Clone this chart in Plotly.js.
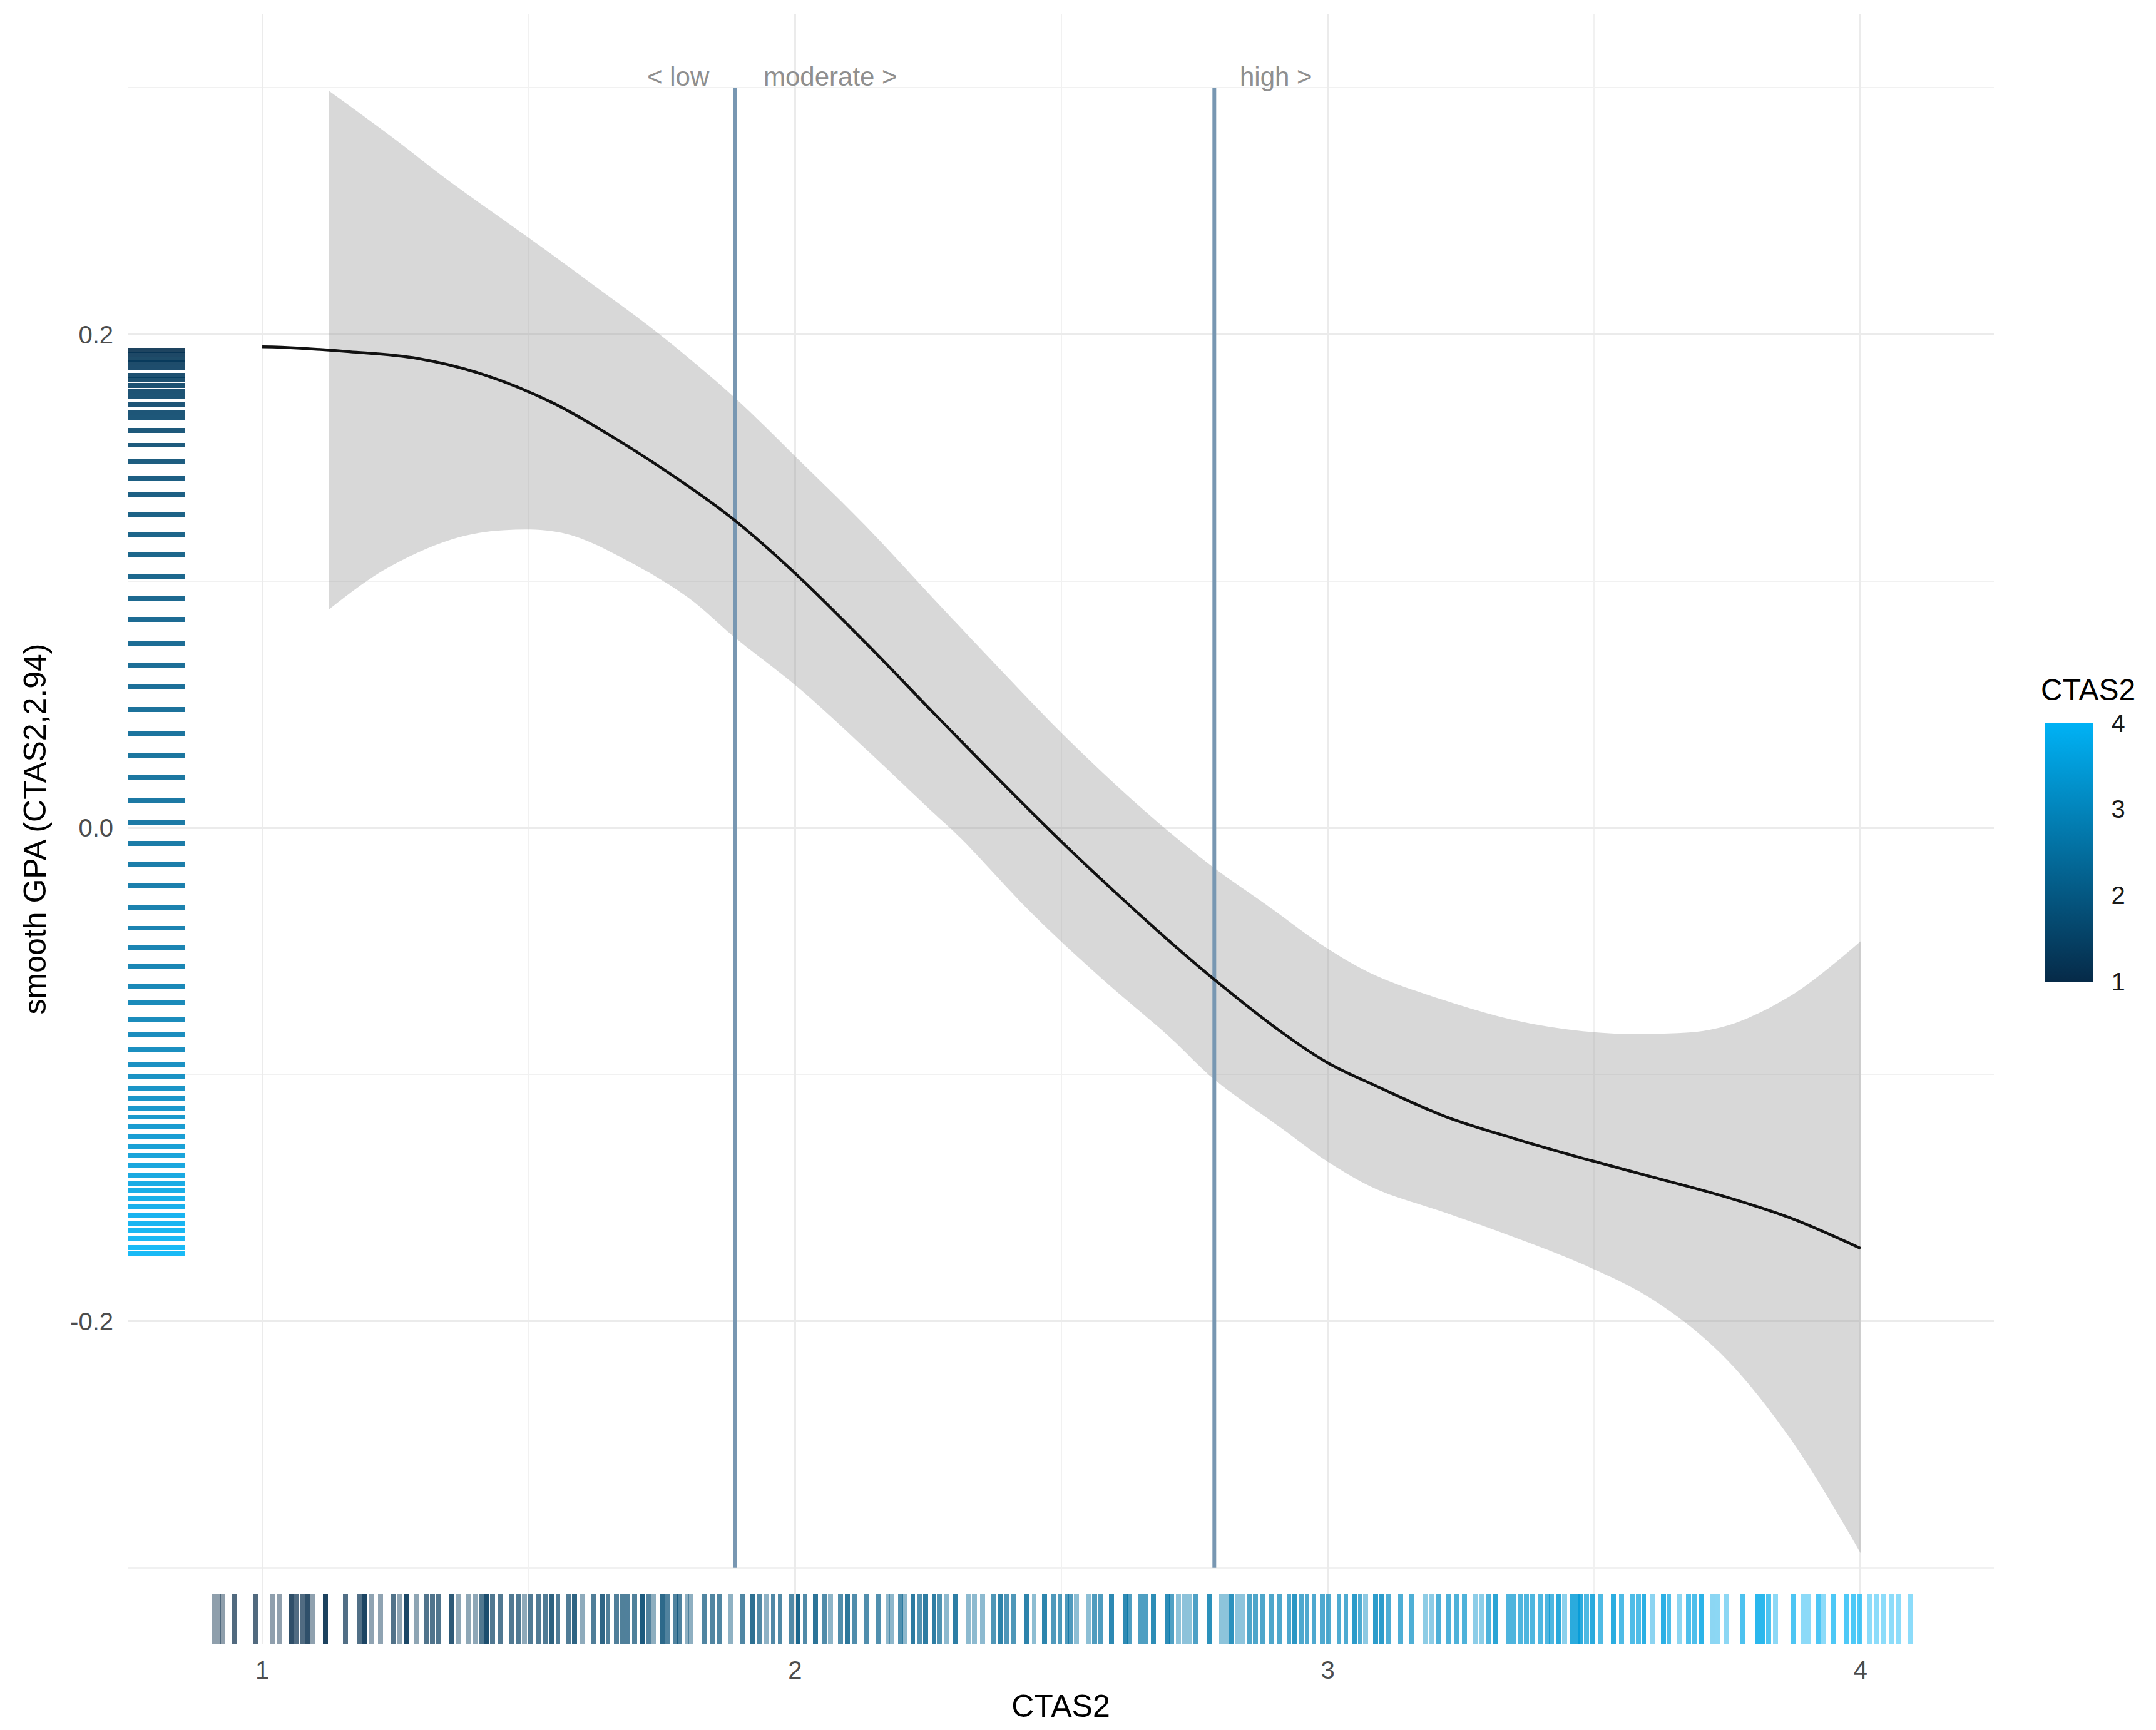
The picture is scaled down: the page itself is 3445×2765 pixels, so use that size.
<!DOCTYPE html>
<html><head><meta charset="utf-8">
<script src="https://cdn.plot.ly/plotly-3.0.1.min.js"></script>
<style>html,body{margin:0;padding:0;background:#fff}#chart{width:3445px;height:2765px}</style>
</head><body><div id="chart"></div>
<script>
// ---- fitted smooth ----
const curveX = [1.0, 1.0364, 1.1639, 1.291, 1.4187, 1.546, 1.673, 1.801, 1.886, 2.005, 2.132, 2.259, 2.387, 2.514, 2.686, 2.787, 2.911, 3.0, 3.091, 3.22, 3.35, 3.479, 3.608, 3.737, 3.866, 4.0];
const curveY = [0.1950, 0.1948, 0.1930, 0.1903, 0.1835, 0.1722, 0.1564, 0.1383, 0.1248, 0.1022, 0.0751, 0.0468, 0.0186, -0.0085, -0.0428, -0.0615, -0.0825, -0.0953, -0.1047, -0.117, -0.126, -0.134, -0.1415, -0.149, -0.158, -0.1705];
// ---- confidence band ----
const bandUpperX = [1.1256, 1.240, 1.355, 1.495, 1.610, 1.750, 1.886, 2.005, 2.132, 2.259, 2.387, 2.514, 2.654, 2.788, 2.884, 3.0, 3.091, 3.22, 3.35, 3.479, 3.608, 3.737, 3.866, 4.0];
const bandUpperY = [0.2987, 0.2806, 0.2615, 0.240, 0.2219, 0.1993, 0.1745, 0.1496, 0.1225, 0.0931, 0.0638, 0.0355, 0.0073, -0.0165, -0.0311, -0.049, -0.060, -0.070, -0.078, -0.0825, -0.0836, -0.081, -0.0685, -0.046];
const bandLowerX = [1.1256, 1.2275, 1.355, 1.457, 1.5715, 1.699, 1.801, 1.886, 2.005, 2.132, 2.259, 2.310, 2.446, 2.575, 2.704, 2.787, 2.911, 3.0, 3.091, 3.22, 3.35, 3.479, 3.608, 3.737, 3.866, 4.0];
const bandLowerY = [0.0886, 0.1044, 0.1169, 0.1207, 0.1191, 0.1067, 0.0931, 0.0773, 0.0570, 0.0321, 0.0062, -0.0040, -0.035, -0.061, -0.085, -0.102, -0.1215, -0.1354, -0.1465, -0.156, -0.166, -0.177, -0.191, -0.213, -0.247, -0.294];
// ---- cut points ----
const cutPoints = [1.888, 2.787];
const cutSpanY = [-0.3, 0.3];
const cutLabels = ['< low', 'moderate >', 'high >'];
// ---- rug of CTAS2 observations (x) with overlap counts ----
const rugX = [0.909,0.918,0.926,0.948,0.988,1.019,1.033,1.054,1.065,1.075,1.086,1.094,1.119,1.156,1.183,1.193,1.204,1.222,1.246,1.257,1.270,1.290,1.308,1.319,1.330,1.355,1.369,1.387,1.400,1.411,1.421,1.432,1.447,1.468,1.481,1.492,1.503,1.518,1.531,1.544,1.555,1.576,1.586,1.600,1.623,1.639,1.649,1.665,1.676,1.686,1.699,
1.713,1.726,1.734,1.752,1.760,1.776,1.783,1.797,1.804,1.830,1.846,1.859,1.880,1.901,1.920,1.933,1.946,1.959,1.972,1.993,2.006,2.019,2.038,2.056,2.067,2.085,2.098,2.111,2.134,2.156,2.174,2.182,2.198,2.206,2.221,2.234,2.245,2.261,2.271,2.284,2.300,2.326,2.337,2.352,2.373,2.386,2.397,2.410,2.434,2.449,2.468,2.486,2.497,2.510,
2.518,2.528,2.552,2.562,2.573,2.594,2.620,2.628,2.649,2.657,2.673,2.699,2.707,2.720,2.730,2.741,2.753,2.777,2.801,2.809,2.818,2.830,2.840,2.854,2.864,2.878,2.894,2.909,2.927,2.937,2.951,2.961,2.974,2.990,3.000,3.021,3.034,3.050,3.061,3.071,3.090,3.100,3.113,3.137,3.158,3.184,3.194,3.207,3.226,3.242,3.257,3.278,3.289,3.302,3.315,
3.339,3.349,3.362,3.373,3.383,3.399,3.412,3.420,3.433,3.444,3.460,3.468,3.475,3.486,3.496,3.512,3.536,3.551,3.572,3.583,3.593,3.610,3.630,3.640,3.661,3.677,3.688,3.701,3.722,3.732,3.748,3.779,3.806,3.816,3.827,3.840,3.874,3.892,3.903,3.921,3.931,3.950,3.973,3.986,3.999,4.018,4.029,4.044,4.059,4.072,4.093];
const rugCount = [1,1,1,2,2,1,1,3,2,2,3,1,4,2,2,4,1,1,2,1,4,1,2,2,2,3,1,1,1,2,4,2,2,2,2,1,2,2,2,3,2,2,3,1,2,3,2,2,2,2,2,
4,2,1,3,2,2,2,1,1,2,2,2,1,2,3,2,1,2,2,2,4,2,3,2,1,2,3,2,2,2,1,1,2,1,3,2,3,3,2,1,3,1,1,1,2,3,2,2,3,1,3,2,2,2,
2,1,1,2,2,3,3,2,2,2,3,3,2,1,1,1,2,3,1,1,3,1,1,2,2,2,2,2,2,3,2,2,2,2,2,2,2,3,2,1,3,3,2,2,2,1,1,2,2,2,2,1,1,2,3,
2,2,2,2,2,2,2,2,3,1,3,3,3,2,3,2,3,2,2,2,3,1,3,2,1,2,2,3,1,1,1,2,3,3,2,1,2,1,1,2,1,2,2,2,2,1,1,1,1,1,1];
// ---- rug of fitted smooth values (y) ----
const rugY = [0.1936,0.1917,0.1899,0.1884,0.1866,0.1834,0.1819,0.1793,0.1767,0.1749,0.1715,0.1684,0.1663,0.1611,0.1551,0.1486,0.1419,0.1349,0.1268,0.1188,0.1105,0.1019,0.0931,0.0845,0.0746,0.0660,0.0572,0.0479,0.0383,0.0294,0.0206,0.0110,0.0022,-0.0064,-0.0150,-0.0236,-0.0321,-0.0407,-0.0485,-0.0563,-0.0641,-0.0711,-0.0776,-0.0836,-0.0901,-0.0958,-0.1010,-0.1056,-0.1095,-0.1139,-0.1173,-0.1212,-0.1251,-0.1290,-0.1329,-0.1368,-0.1407,-0.1441,-0.1472,-0.1503,-0.1537,-0.1571,-0.1602,-0.1633,-0.1667,-0.1701,-0.1726];
// ---- ticks ----
const xTickVals = [1, 2, 3, 4];
const xTickText = ['1', '2', '3', '4'];
const yTickVals = [-0.2, 0, 0.2];
const yTickText = ['-0.2', '0.0', '0.2'];
const colorTickVals = [1, 2, 3, 4];
const colorTitle = 'CTAS2';

// ---- styling ----
const FONT = 'Liberation Sans, Arial, sans-serif';
const xRange = [0.7474, 4.2503];
const yRange = [-0.331, 0.330];
const scale = [[0, '#062a48'], [1, '#00b2f5']];
const rugFrac = 0.031;
const alpha = 0.45;

function ctasFromFit(v) {
  if (v >= curveY[0]) return curveX[0];
  for (let i = 0; i < curveY.length - 1; i++) {
    const a = curveY[i], b = curveY[i + 1];
    if (v <= a && v >= b) return curveX[i] + (curveX[i + 1] - curveX[i]) * (a - v) / (a - b);
  }
  return curveX[curveX.length - 1];
}

const traces = [
  { type: 'scatter', mode: 'lines', x: bandLowerX, y: bandLowerY, line: { width: 0, shape: 'spline', smoothing: 1 }, hoverinfo: 'skip' },
  { type: 'scatter', mode: 'lines', x: bandUpperX, y: bandUpperY, line: { width: 0, shape: 'spline', smoothing: 1 }, fill: 'tonexty', fillcolor: 'rgba(153,153,153,0.38)', hoverinfo: 'skip' },
  ...cutPoints.map(c => ({ type: 'scatter', mode: 'lines', x: [c, c], y: cutSpanY, line: { color: '#7897b2', width: 6 }, hoverinfo: 'skip' })),
  { type: 'scatter', mode: 'lines', x: curveX, y: curveY, line: { color: '#111111', width: 4.5, shape: 'spline', smoothing: 1 }, hoverinfo: 'skip' },
  { type: 'bar', x: rugX, y: rugX.map(() => rugFrac * (yRange[1] - yRange[0])), base: yRange[0], width: 0.0092,
    marker: { color: rugX, colorscale: scale, cmin: 1, cmax: 4, opacity: rugCount.map(n => 1 - Math.pow(1 - alpha, n)), line: { width: 0 },
      showscale: true,
      colorbar: { x: 1.0272, xanchor: 'left', y: 0.4858, yanchor: 'middle',
        len: 413, lenmode: 'pixels', thickness: 77, outlinewidth: 0, xpad: 0, ypad: 0,
        tickmode: 'array', tickvals: colorTickVals, ticks: 'outside', ticklen: 22, tickwidth: 1, tickcolor: 'rgba(255,255,255,0)',
        tickfont: { family: FONT, size: 40, color: '#1a1a1a' } } },
    hoverinfo: 'skip' },
  { type: 'bar', orientation: 'h', y: rugY, x: rugY.map(() => rugFrac * (xRange[1] - xRange[0])), base: xRange[0], width: 0.002,
    marker: { color: rugY.map(ctasFromFit), colorscale: scale, cmin: 1, cmax: 4, opacity: 0.9, line: { width: 0 }, showscale: false },
    hoverinfo: 'skip' }
];

const annFont = { family: FONT, size: 42, color: '#8f8f8f' };
const layout = {
  width: 3445, height: 2765,
  margin: { l: 204, r: 259, t: 22, b: 137, pad: 0 },
  paper_bgcolor: '#fff', plot_bgcolor: '#fff',
  showlegend: false, barmode: 'overlay', bargap: 0, hovermode: false,
  font: { family: FONT },
  xaxis: { range: xRange, tickmode: 'array', tickvals: xTickVals, ticktext: xTickText, showgrid: true, gridcolor: '#ebebeb', gridwidth: 3,
    zeroline: false, showline: false, ticks: '', ticklabelstandoff: 14, tickfont: { family: FONT, size: 40, color: '#4d4d4d' },
    minor: { tickmode: 'array', tickvals: [1.5, 2.5, 3.5], showgrid: true, gridcolor: '#f1f1f1', gridwidth: 2 },
    title: { text: 'CTAS2', font: { family: FONT, size: 50, color: '#000' }, standoff: 18 } },
  yaxis: { range: yRange, tickmode: 'array', tickvals: yTickVals, ticktext: yTickText, showgrid: true, gridcolor: '#ebebeb', gridwidth: 3,
    zeroline: false, showline: false, ticks: '', ticklabelstandoff: 22, tickfont: { family: FONT, size: 40, color: '#4d4d4d' },
    minor: { tickmode: 'array', tickvals: [-0.3, -0.1, 0.1, 0.3], showgrid: true, gridcolor: '#f1f1f1', gridwidth: 2 },
    title: { text: 'smooth GPA (CTAS2,2.94)', font: { family: FONT, size: 50, color: '#000' }, standoff: 22 } },
  annotations: [
    { x: cutPoints[0] - 0.046, y: 0.3044, xref: 'x', yref: 'y', text: cutLabels[0], showarrow: false, xanchor: 'right', yanchor: 'middle', font: annFont },
    { x: cutPoints[0] + 0.051, y: 0.3044, xref: 'x', yref: 'y', text: cutLabels[1], showarrow: false, xanchor: 'left', yanchor: 'middle', font: annFont },
    { x: cutPoints[1] + 0.046, y: 0.3044, xref: 'x', yref: 'y', text: cutLabels[2], showarrow: false, xanchor: 'left', yanchor: 'middle', font: annFont },
    { x: 1.0245, y: 0.5855, xref: 'paper', yref: 'paper', text: colorTitle, showarrow: false, xanchor: 'left', yanchor: 'middle',
      font: { family: FONT, size: 48, color: '#000' } }
  ]
};

Plotly.newPlot('chart', traces, layout, { displayModeBar: false, staticPlot: true });
</script>
</body></html>
